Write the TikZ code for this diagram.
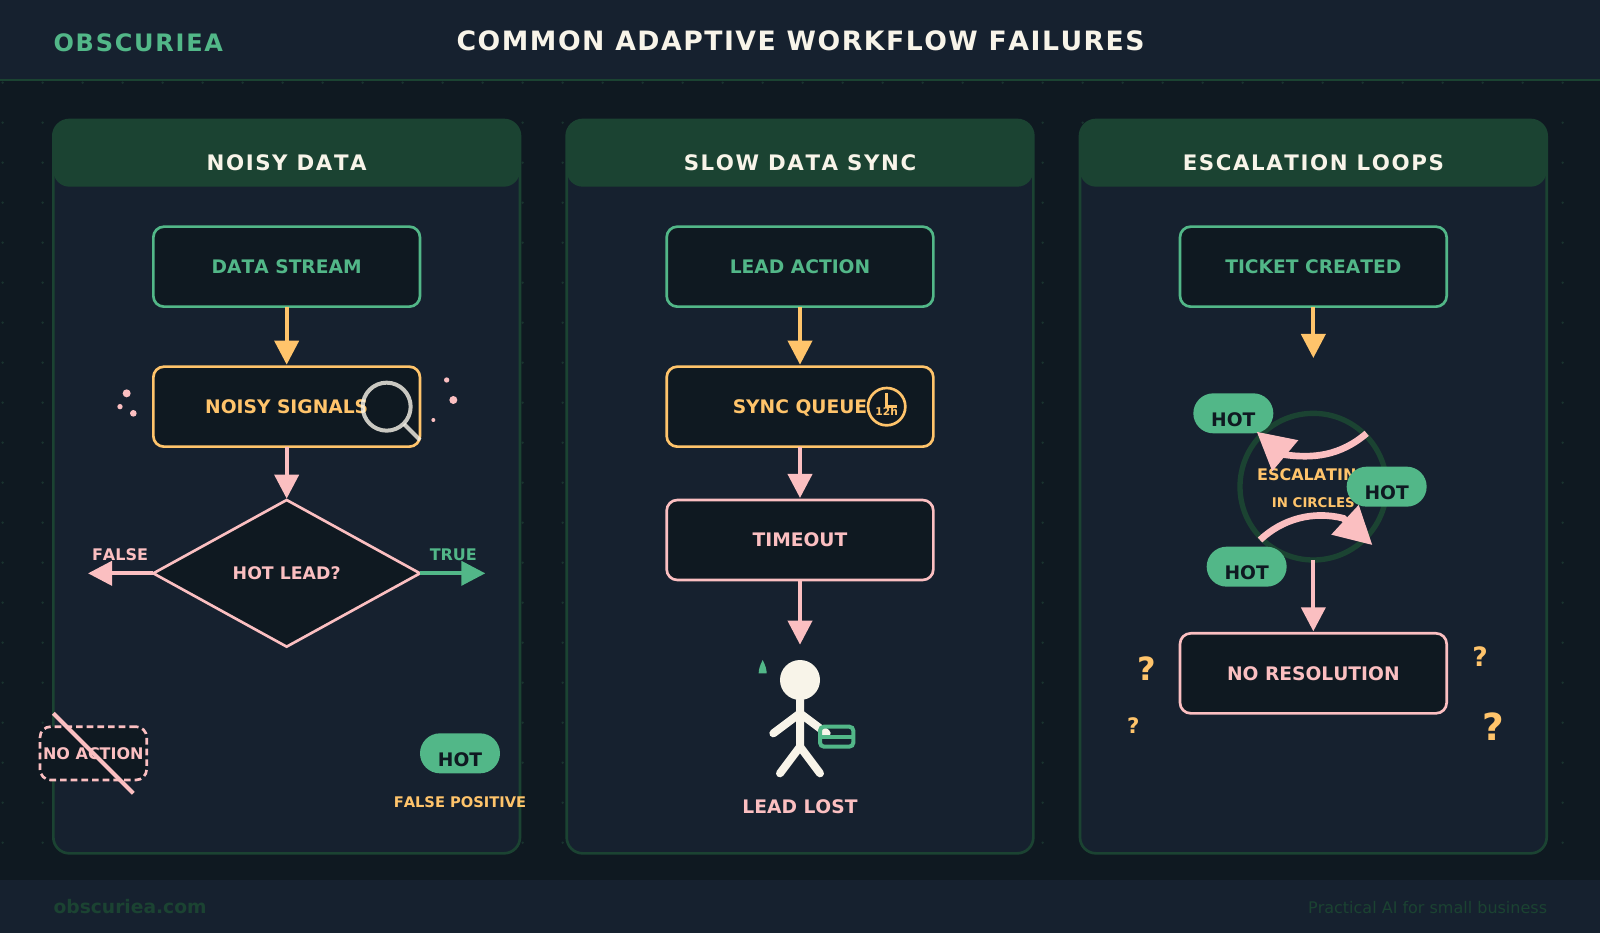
\documentclass[tikz,border=0pt]{standalone}
\usepackage{fontspec}
\setmainfont[Kerning=Off]{DejaVu Sans}
\usetikzlibrary{arrows.meta,shapes.geometric}
\definecolor{bgdark}{HTML}{0F1921}
\definecolor{bgpanel}{HTML}{16212F}
\definecolor{dotgreen}{HTML}{19332F}
\definecolor{deepgreen}{HTML}{1B4332}
\definecolor{brandgreen}{HTML}{52B788}
\definecolor{amber}{HTML}{FFC46B}
\definecolor{rose}{HTML}{FBBFC1}
\definecolor{cream}{HTML}{F8F4E9}
\newcommand{\boldtext}[1]{\fontsize{#1}{#1}\selectfont\bfseries}
\tikzset{
  panelbox/.style={draw=deepgreen,line width=2pt,fill=bgpanel,rounded corners=12pt,minimum width=350pt,minimum height=550pt,inner sep=0pt,outer sep=0pt},
  panelhead/.style={fill=deepgreen,text=cream,rounded corners=12pt,minimum width=350pt,minimum height=50pt,inner sep=0pt,outer sep=0pt,text height=26pt,text depth=0pt,font={\boldtext{16}\addfontfeature{LetterSpace=7.4}}},
  flowbox/.style={draw=#1,text=#1,fill=bgdark,line width=2pt,rounded corners=8pt,minimum width=200pt,minimum height=60pt,inner sep=0pt,outer sep=0pt,text height=10.2pt,text depth=0pt,font=\boldtext{14}},
  hotpill/.style={fill=brandgreen,text=bgdark,rounded corners=15pt,minimum width=60pt,minimum height=30pt,inner sep=0pt,outer sep=0pt,text height=20pt,text depth=0pt,font=\boldtext{14}},
  flowline/.style={line width=3pt,-{Triangle[length=18pt,width=18pt]},shorten >=1.5pt},
  loopline/.style={line width=5pt,rose,-{Triangle[length=28pt,width=29pt]}},
  label/.style={anchor=base,inner sep=0pt,font=\boldtext{#1}},
  query/.style={anchor=base,inner sep=0pt,text=amber,font=\boldtext{#1}}
}
\begin{document}
\begin{tikzpicture}[x=1pt, y=-1pt]
  \useasboundingbox (0,0) rectangle (1200,700);
  \fill[bgdark] (0,0) rectangle (1200,700);
  \foreach \dx in {0,...,39}
    \foreach \dy in {2,...,21}
      \fill[dotgreen] ({2+30*\dx},{2+30*\dy}) circle (1pt);
  \fill[bgpanel] (0,0) rectangle (1200,60);
  \draw[deepgreen,line width=2pt] (0,60) -- (1200,60);
  \fill[bgpanel] (0,660) rectangle (1200,700);
  \node[anchor=base west,inner sep=0pt,text=brandgreen,font={\boldtext{18}\addfontfeature{LetterSpace=7.3}}] (logo) at (40,38.5) {OBSCURIEA};
  \node[anchor=base,inner sep=0pt,text=cream,font={\boldtext{20}\addfontfeature{LetterSpace=5.7}}] (title) at (600.5,38) {COMMON ADAPTIVE WORKFLOW FAILURES};
  \node[anchor=base west,inner sep=0pt,text=deepgreen,font=\boldtext{14}] (footurl) at (40,685) {obscuriea.com};
  \node[anchor=base east,inner sep=0pt,text=deepgreen,font=\fontsize{12}{12}\selectfont] (footline) at (1160.5,685) {Practical AI for small business};

  \node[panelbox] (panelnoisy) at (215,365) {};
  \node[panelbox] (panelslow) at (600,365) {};
  \node[panelbox] (panelloop) at (985,365) {};
  \node[panelhead] (headnoisy) at (215,115) {NOISY DATA};
  \node[panelhead] (headslow) at (600,115) {SLOW DATA SYNC};
  \node[panelhead] (headloop) at (985,115) {ESCALATION LOOPS};

  \node[flowbox=brandgreen] (stream) at (215,200) {DATA STREAM};
  \node[flowbox=amber] (signals) at (215,305) {NOISY SIGNALS};
  \node[diamond,draw=rose,text=rose,fill=bgdark,line width=2pt,aspect=1.818,minimum width=200pt,minimum height=110pt,inner sep=0pt,outer sep=0pt,text height=9.5pt,text depth=0pt,font=\boldtext{13}] (hotlead) at (215,430) {HOT LEAD?};
  \coordinate (falseend) at (66,430);
  \coordinate (trueend) at (364,430);
  \draw[flowline,amber] (stream) -- (signals);
  \draw[flowline,rose,shorten >=1pt] (signals) -- (hotlead);
  \draw[flowline,rose,shorten >=0pt] (hotlead) -- (falseend);
  \draw[flowline,brandgreen,shorten >=0pt] (hotlead) -- (trueend);
  \node[label=12,text=rose] (falselabel) at (90,420.5) {FALSE};
  \node[label=12,text=brandgreen] (truelabel) at (340,420.5) {TRUE};
  \draw[cream,opacity=.8,line width=3pt] (290,305) circle (18pt);
  \draw[cream,opacity=.8,line width=3pt] (303,318) -- (315,330);
  \fill[rose] (95,295) circle (3pt);
  \fill[rose] (90,305) circle (2pt);
  \fill[rose] (100,310) circle (2.5pt);
  \fill[rose] (335,285) circle (2pt);
  \fill[rose] (340,300) circle (3pt);
  \fill[rose] (325,315) circle (1.5pt);
  \node[draw=rose,dashed,dash pattern=on 5pt off 3pt,text=rose,fill=bgdark,line width=2pt,rounded corners=8pt,minimum width=80pt,minimum height=40pt,inner sep=0pt,outer sep=0pt,text height=8.8pt,text depth=0pt,font=\boldtext{12}] (noaction) at (70,565) {NO ACTION};
  \draw[rose,line width=3pt] (40,535) -- (100,595);
  \node[hotpill] (hotnoisy) at (345,565) {HOT};
  \node[label=11,text=amber] (falsepos) at (345,605.5) {FALSE POSITIVE};

  \node[flowbox=brandgreen] (leadaction) at (600,200) {LEAD ACTION};
  \node[flowbox=amber] (syncqueue) at (600,305) {SYNC QUEUE};
  \node[flowbox=rose] (timeout) at (600,405) {TIMEOUT};
  \coordinate (lostend) at (600,485);
  \draw[flowline,amber] (leadaction) -- (syncqueue);
  \draw[flowline,rose] (syncqueue) -- (timeout);
  \draw[flowline,rose] (timeout) -- (lostend);
  \draw[amber,line width=2pt] (665,305) circle (14pt);
  \draw[amber,line width=2pt] (665,295) -- (665,305) -- (673,305);
  \node[label=8,text=amber] (syncdelay) at (665,312) {12h};
  \fill[cream] (600,510) circle (15pt);
  \draw[cream,line width=6pt,line cap=round,line join=round] (600,525) -- (600,560) (580,550) -- (600,535) -- (620,550) (585,580) -- (600,560) -- (615,580);
  \draw[brandgreen,line width=3pt,rounded corners=3pt] (615,545) rectangle (640,560);
  \draw[brandgreen,line width=3pt] (615,552.5) -- (640,552.5);
  \fill[brandgreen] (572,495) .. controls (570,499) and (569,502) .. (569,505) -- (575,505) .. controls (575,502) and (574,499) .. (572,495) -- cycle;
  \node[label=14,text=rose] (leadlost) at (600,610) {LEAD LOST};

  \node[flowbox=brandgreen] (ticket) at (985,200) {TICKET CREATED};
  \coordinate (ticketend) at (985,270);
  \draw[flowline,amber] (ticket) -- (ticketend);
  \node[circle,draw=deepgreen,line width=4pt,minimum size=110pt,inner sep=0pt,outer sep=0pt] (loop) at (985,365) {};
  \node[label=12,text=amber] (looptext) at (985,360.5) {ESCALATING};
  \node[label=10,text=amber] (looptextb) at (985,380.5) {IN CIRCLES};
  \node[hotpill] (hottop) at (925,310) {HOT};
  \node[hotpill] (hotright) at (1040,365) {HOT};
  \node[hotpill] (hotbottom) at (935,425) {HOT};
  \coordinate (topstart) at (1025,325);
  \coordinate (topjoin) at (963,341);
  \coordinate (topend) at (942.5,323.8);
  \coordinate (bottomstart) at (945,405);
  \coordinate (bottomjoin) at (1007.5,388.7);
  \coordinate (bottomend) at (1029.3,408.8);
  \draw[loopline] (topstart) .. controls (1005,342) and (985,344) .. (topjoin) -- (topend);
  \draw[loopline] (bottomstart) .. controls (962,389) and (985,383) .. (bottomjoin) -- (bottomend);
  \node[flowbox=rose] (noresolution) at (985,505) {NO RESOLUTION};
  \draw[flowline,rose] (loop) -- (noresolution);
  \node[query=24] (querya) at (860,510) {?};
  \node[query=20] (queryb) at (1110,500) {?};
  \node[query=16] (queryc) at (850,550) {?};
  \node[query=28] (queryd) at (1120,555) {?};
\end{tikzpicture}
\end{document}
